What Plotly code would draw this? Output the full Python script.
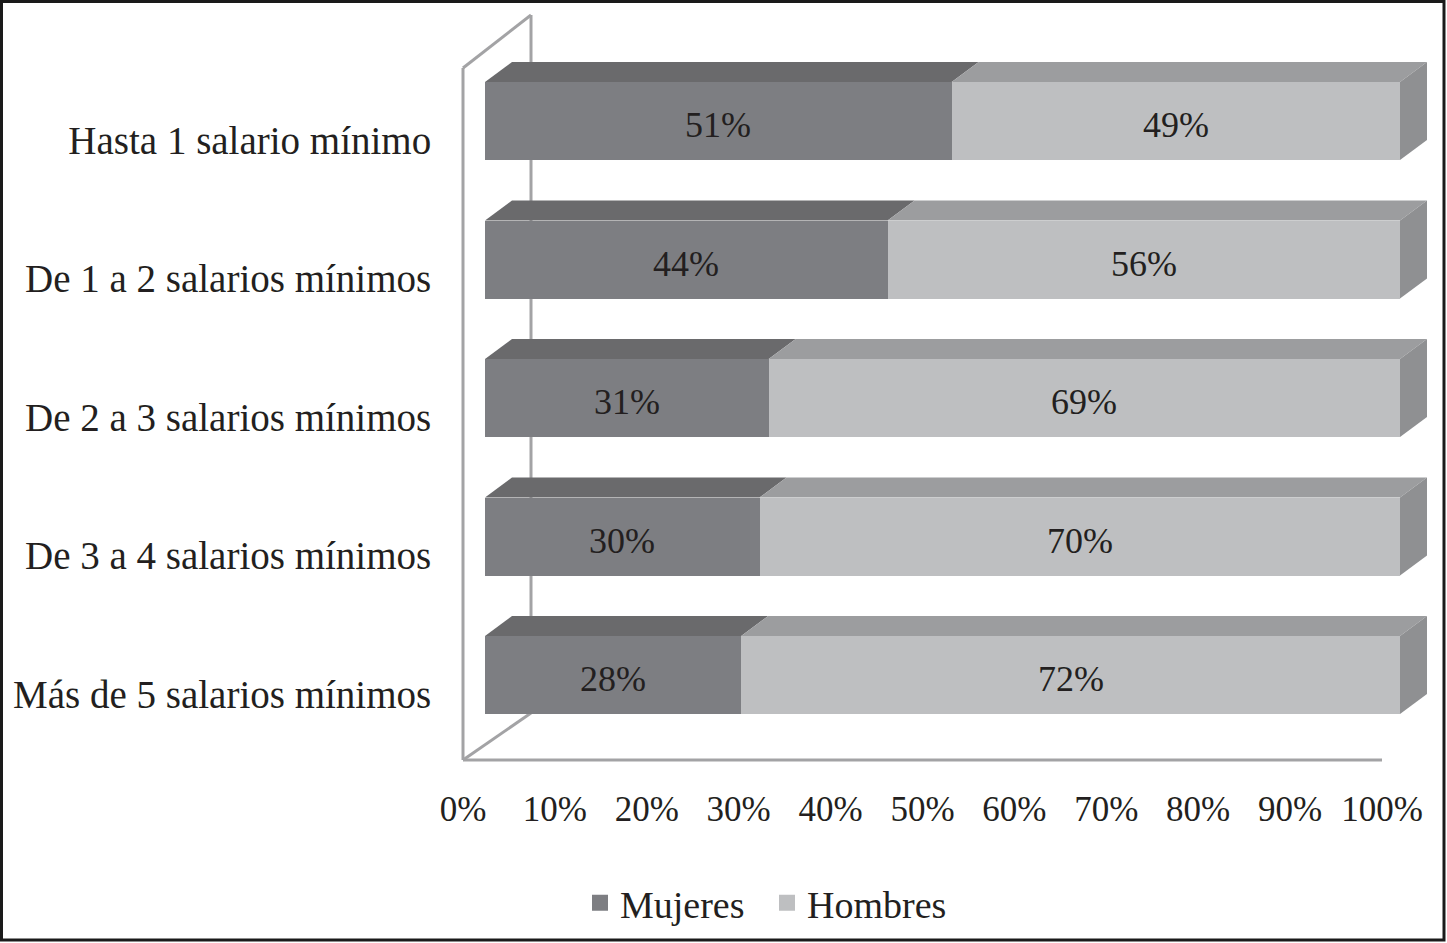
import plotly.graph_objects as go

categories = ["Hasta 1 salario mínimo", "De 1 a 2 salarios mínimos", "De 2 a 3 salarios mínimos",
              "De 3 a 4 salarios mínimos", "Más de 5 salarios mínimos"]
mujeres = [51, 44, 31, 30, 28]
hombres = [49, 56, 69, 70, 72]
tick_vals = [0, 10, 20, 30, 40, 50, 60, 70, 80, 90, 100]

W, H = 1447, 943
L, R, T, B = 463, 15, 15, 183
PW, PH = W - L - R, H - T - B

FONT = "Liberation Serif"
TXT = "#231f20"
C_MUJ, C_MUJ_TOP = "#7d7e82", "#6a6a6c"
C_HOM, C_HOM_TOP = "#bebfc1", "#9c9d9f"
C_SIDE = "#8f9092"
C_WALL = "#a3a3a5"

# scales
px_per_unit_tick = 9.19
px_per_unit_bar = 9.15
bar_x0_px = 485
px_per_cat = 138.5
first_center_px = 121
label_center_px = 140
bar_w = 78 / px_per_cat
dx = 27 / px_per_unit_bar
dy = 20 / px_per_cat

x2_r0 = -(bar_x0_px - L) / px_per_unit_bar
x2_r1 = x2_r0 + PW / px_per_unit_bar
y_top = -(first_center_px - T) / px_per_cat
y_bot = y_top + PH / px_per_cat
y2_top = -(label_center_px - T) / px_per_cat
y2_bot = y2_top + PH / px_per_cat

ys = list(range(len(categories)))

def ppx(px):
    return (px - L) / PW

def ppy(py):
    return (T + PH - py) / PH

fig = go.Figure()
# invisible trace so the tick/label axes are drawn
fig.add_trace(go.Scatter(x=[tick_vals[0], tick_vals[-1]], y=[ys[0], ys[-1]], mode="none",
                         showlegend=False, hoverinfo="skip", xaxis="x", yaxis="y2"))
fig.add_trace(go.Bar(y=ys, x=mujeres, orientation="h", name="Mujeres", xaxis="x2", yaxis="y",
                     marker=dict(color=C_MUJ, line=dict(width=0)), width=bar_w,
                     showlegend=False))
fig.add_trace(go.Bar(y=ys, x=hombres, orientation="h", name="Hombres", xaxis="x2", yaxis="y",
                     marker=dict(color=C_HOM, line=dict(width=0)), width=bar_w,
                     showlegend=False))
# legend entries with larger square symbols
for nm, col in [("Mujeres", C_MUJ), ("Hombres", C_HOM)]:
    fig.add_trace(go.Scatter(x=[None], y=[None], mode="markers", name=nm, xaxis="x2", yaxis="y",
                             marker=dict(symbol="square", size=17, color=col),
                             showlegend=True))

# value labels, centred on each segment
annotations = []
for y, m, h in zip(ys, mujeres, hombres):
    for cx, v in [(m / 2, m), (m + h / 2, h)]:
        annotations.append(dict(x=cx, y=y, xref="x2", yref="y", text=f"{v}%", showarrow=False,
                                yshift=-4, font=dict(family=FONT, size=36, color=TXT)))

shapes = []
# wall and floor (axis decoration)
wl = dict(color=C_WALL, width=3)
for (ax0, ay0, ax1, ay1) in [(463, 68, 463, 760), (463, 68, 531, 15), (531, 15, 531, 713),
                             (463, 760, 531, 713), (463, 760, 1382, 760)]:
    shapes.append(dict(type="line", xref="paper", yref="paper", x0=ppx(ax0), y0=ppy(ay0),
                       x1=ppx(ax1), y1=ppy(ay1), line=wl, layer="below"))

# 3D faces of bars computed from data
for y, m, h in zip(ys, mujeres, hombres):
    yt = y - bar_w / 2
    yb = y + bar_w / 2
    segs = [(0, m, C_MUJ_TOP), (m, m + h, C_HOM_TOP)]
    for a, b, col in segs:
        path = f"M {a},{yt} L {a+dx},{yt-dy} L {b+dx},{yt-dy} L {b},{yt} Z"
        shapes.append(dict(type="path", xref="x2", yref="y", path=path,
                           fillcolor=col, line=dict(width=0), layer="below"))
    e = m + h
    path = f"M {e},{yt} L {e+dx},{yt-dy} L {e+dx},{yb-dy} L {e},{yb} Z"
    shapes.append(dict(type="path", xref="x2", yref="y", path=path,
                       fillcolor=C_SIDE, line=dict(width=0), layer="below"))

# outer frame
shapes.append(dict(type="rect", xref="paper", yref="paper", x0=ppx(1.5), x1=ppx(W - 3),
                   y0=ppy(H - 3), y1=ppy(1.5), line=dict(color="#1a1a1a", width=3),
                   fillcolor="rgba(0,0,0,0)", layer="above"))

fig.update_layout(
    width=W, height=H, margin=dict(l=L, r=R, t=T, b=B, autoexpand=False),
    paper_bgcolor="white", plot_bgcolor="rgba(0,0,0,0)",
    barmode="stack", bargap=0,
    font=dict(family=FONT, size=36, color=TXT),
    shapes=shapes,
    annotations=annotations,
    showlegend=True,
    legend=dict(orientation="h", x=ppx(580), xanchor="left", y=ppy(903), yanchor="middle",
                font=dict(family=FONT, size=38, color=TXT), traceorder="normal",
                itemwidth=30, tracegroupgap=0, bgcolor="rgba(0,0,0,0)",
                entrywidth=142, entrywidthmode="pixels"),
    xaxis=dict(range=[0, PW / px_per_unit_tick], tickvals=tick_vals,
               ticktext=[f"{v}%" for v in tick_vals], showgrid=False, zeroline=False,
               showline=False, ticks="outside", ticklen=18, tickcolor="rgba(0,0,0,0)",
               tickfont=dict(family=FONT, size=35, color=TXT), automargin=False,
               anchor="y"),
    xaxis2=dict(range=[x2_r0, x2_r1], overlaying="x", visible=False, showgrid=False,
                zeroline=False, automargin=False, anchor="y"),
    yaxis=dict(range=[y_bot, y_top], visible=False, showgrid=False, zeroline=False,
               automargin=False),
    yaxis2=dict(range=[y2_bot, y2_top], overlaying="y", side="left", tickvals=ys,
                ticktext=categories, showgrid=False, zeroline=False, showline=False,
                ticks="outside", ticklen=23, tickcolor="rgba(0,0,0,0)",
                tickfont=dict(family=FONT, size=39, color=TXT), automargin=False),
)

fig.write_html("out.html", config={"displayModeBar": False, "responsive": False},
               post_script="document.body.style.margin='0px';")
